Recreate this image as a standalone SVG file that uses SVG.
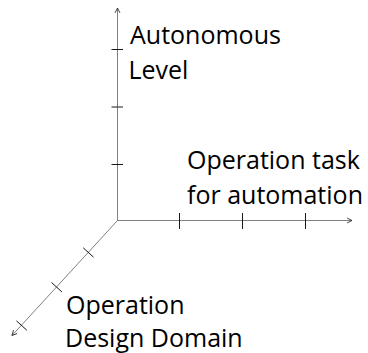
<svg xmlns="http://www.w3.org/2000/svg" width="368" height="353" viewBox="0 0 368 353">
<style>
.axis{stroke:#808080;stroke-width:1;fill:none}
.tick{stroke:#1a1a1a;stroke-width:1;fill:none}
.lbl{font-family:"Open Sans","Noto Sans",sans-serif;font-size:25px;fill:#000}
</style>
<defs>
<marker id="arr" viewBox="0 0 10 10" refX="9" refY="5" markerWidth="7" markerHeight="7" markerUnits="userSpaceOnUse" orient="auto">
<path d="M2,1.5 L9,5 L2,8.5" fill="none" stroke="#333" stroke-width="1.3"/>
</marker>
</defs>
<g id="connectors">
<line class="axis" x1="117.5" y1="221" x2="117.5" y2="8" marker-end="url(#arr)"/>
<line class="axis" x1="117.5" y1="220.5" x2="352" y2="220.5" marker-end="url(#arr)"/>
<line class="axis" x1="117.5" y1="220.5" x2="12" y2="335.5" marker-end="url(#arr)"/>
</g>
<g id="ticks">
<line class="tick" x1="111.5" y1="49.5" x2="123" y2="49.5"/>
<line class="tick" x1="111.5" y1="107" x2="123" y2="107"/>
<line class="tick" x1="111.5" y1="164.5" x2="123" y2="164.5"/>
<line class="tick" x1="179.5" y1="213" x2="179.5" y2="229"/>
<line class="tick" x1="242.5" y1="213" x2="242.5" y2="229"/>
<line class="tick" x1="305.5" y1="213" x2="305.5" y2="229"/>
<line class="tick" x1="83.2" y1="247.8" x2="93.6" y2="257.2"/>
<line class="tick" x1="51.5" y1="282.5" x2="61.9" y2="291.9"/>
<line class="tick" x1="16.5" y1="320.9" x2="26.9" y2="330.3"/>
</g>
<g id="autonomous-level">
<text class="lbl" x="130" y="43.5">Autonomous</text>
<text class="lbl" x="128.5" y="78.5">Level</text>
</g>
<g id="operation-task">
<text class="lbl" x="187" y="168.5">Operation task</text>
<text class="lbl" x="187" y="203.5">for automation</text>
</g>
<g id="odd">
<text class="lbl" x="66" y="313.5">Operation</text>
<text class="lbl" x="65" y="347">Design Domain</text>
</g>
</svg>
